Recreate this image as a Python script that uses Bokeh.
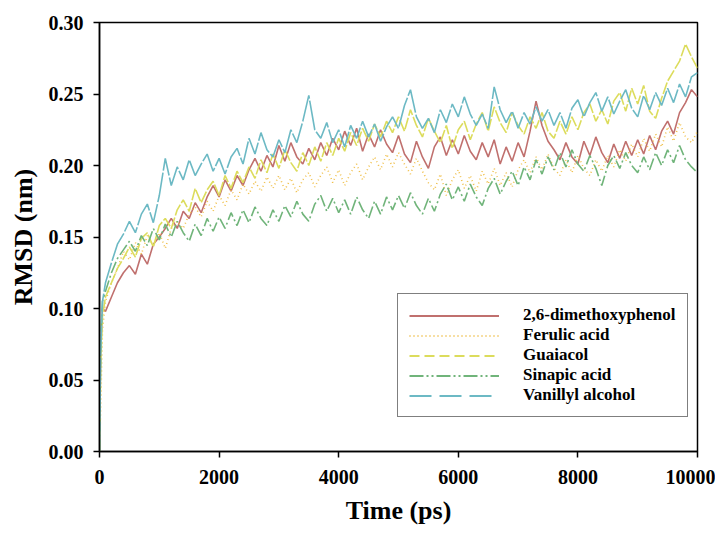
from bokeh.plotting import figure
from bokeh.models import Range1d, FixedTicker, NumeralTickFormatter, Legend, LegendItem
from bokeh.embed import file_html
from bokeh.resources import INLINE

# sample times (ps)
TIME = [0, 20, 50] + list(range(100, 10001, 100))

SERIES_NAMES = ["2,6-dimethoxyphenol", "Ferulic acid", "Guaiacol", "Sinapic acid", "Vanillyl alcohol"]

dimethoxyphenol = [
    0.0, 0.075, 0.100,
    0.098, 0.108, 0.118, 0.125, 0.130, 0.124, 0.138, 0.131, 0.145, 0.150,
    0.156, 0.163, 0.156, 0.168, 0.163, 0.174, 0.167, 0.178, 0.186, 0.178,
    0.190, 0.182, 0.193, 0.186, 0.197, 0.205, 0.196, 0.207, 0.199, 0.214,
    0.203, 0.216, 0.206, 0.201, 0.212, 0.204, 0.216, 0.207, 0.219, 0.211,
    0.224, 0.214, 0.226, 0.210, 0.222, 0.213, 0.225, 0.215, 0.209, 0.221,
    0.208, 0.202, 0.217, 0.206, 0.198, 0.213, 0.220, 0.207, 0.218, 0.208,
    0.221, 0.210, 0.204, 0.216, 0.206, 0.218, 0.201, 0.213, 0.203, 0.216,
    0.206, 0.224, 0.245, 0.228, 0.217, 0.211, 0.204, 0.216, 0.206, 0.201,
    0.217, 0.207, 0.220, 0.209, 0.202, 0.215, 0.205, 0.217, 0.207, 0.218,
    0.208, 0.221, 0.211, 0.224, 0.231, 0.222, 0.237, 0.244, 0.253, 0.248,
]

ferulic_acid = [
    0.0, 0.030, 0.085,
    0.105, 0.118, 0.128, 0.140, 0.134, 0.146, 0.138, 0.151, 0.144, 0.153,
    0.142, 0.156, 0.161, 0.156, 0.166, 0.171, 0.164, 0.175, 0.168, 0.179,
    0.172, 0.183, 0.176, 0.187, 0.180, 0.189, 0.182, 0.192, 0.184, 0.193,
    0.183, 0.191, 0.181, 0.190, 0.195, 0.185, 0.193, 0.199, 0.188, 0.197,
    0.186, 0.195, 0.201, 0.190, 0.199, 0.206, 0.197, 0.208, 0.199, 0.209,
    0.201, 0.194, 0.205, 0.196, 0.188, 0.183, 0.194, 0.179, 0.190, 0.197,
    0.184, 0.193, 0.182, 0.196, 0.187, 0.198, 0.186, 0.195, 0.185, 0.197,
    0.204, 0.195, 0.206, 0.197, 0.208, 0.198, 0.193, 0.204, 0.195, 0.207,
    0.198, 0.193, 0.204, 0.196, 0.207, 0.199, 0.211, 0.203, 0.215, 0.206,
    0.219, 0.210, 0.222, 0.213, 0.227, 0.217, 0.230, 0.220, 0.216, 0.224,
]

guaiacol = [
    0.0, 0.060, 0.095,
    0.108, 0.118, 0.128, 0.135, 0.143, 0.136, 0.149, 0.153, 0.143, 0.158,
    0.163, 0.156, 0.169, 0.176, 0.168, 0.184, 0.174, 0.183, 0.189, 0.179,
    0.193, 0.184, 0.196, 0.188, 0.199, 0.191, 0.204, 0.195, 0.208, 0.198,
    0.211, 0.202, 0.196, 0.209, 0.200, 0.213, 0.203, 0.216, 0.207, 0.219,
    0.210, 0.223, 0.214, 0.226, 0.217, 0.229, 0.220, 0.231, 0.223, 0.234,
    0.224, 0.239, 0.228, 0.220, 0.233, 0.224, 0.216, 0.228, 0.212, 0.225,
    0.231, 0.218, 0.229, 0.237, 0.224, 0.241, 0.230, 0.223, 0.237, 0.228,
    0.222, 0.234, 0.226, 0.237, 0.224, 0.219, 0.231, 0.222, 0.234, 0.225,
    0.237, 0.243, 0.231, 0.239, 0.229, 0.245, 0.251, 0.238, 0.254, 0.243,
    0.256, 0.238, 0.233, 0.247, 0.259, 0.266, 0.273, 0.285, 0.276, 0.268,
]

sinapic_acid = [
    0.0, 0.080, 0.105,
    0.112, 0.125, 0.135, 0.141, 0.147, 0.140, 0.151, 0.144, 0.156, 0.148,
    0.159, 0.150, 0.161, 0.153, 0.147, 0.159, 0.151, 0.163, 0.154, 0.164,
    0.156, 0.167, 0.158, 0.169, 0.160, 0.171, 0.163, 0.158, 0.169, 0.161,
    0.172, 0.164, 0.175, 0.166, 0.161, 0.173, 0.179, 0.168, 0.177, 0.167,
    0.176, 0.166, 0.178, 0.169, 0.163, 0.175, 0.166, 0.178, 0.169, 0.179,
    0.170, 0.181, 0.172, 0.166, 0.177, 0.168, 0.180, 0.187, 0.176, 0.185,
    0.175, 0.187, 0.178, 0.172, 0.184, 0.191, 0.180, 0.189, 0.196, 0.186,
    0.199, 0.190, 0.204, 0.194, 0.206, 0.197, 0.209, 0.199, 0.211, 0.201,
    0.196, 0.207, 0.198, 0.186, 0.200, 0.207, 0.198, 0.209, 0.200, 0.195,
    0.206, 0.197, 0.209, 0.200, 0.211, 0.202, 0.214, 0.204, 0.199, 0.195,
]

vanillyl_alcohol = [
    0.0, 0.070, 0.105,
    0.118, 0.132, 0.145, 0.152, 0.161, 0.153, 0.166, 0.173, 0.160, 0.179,
    0.205, 0.186, 0.199, 0.190, 0.204, 0.193, 0.201, 0.208, 0.196, 0.205,
    0.194, 0.206, 0.212, 0.201, 0.219, 0.208, 0.223, 0.211, 0.206, 0.218,
    0.209, 0.225, 0.216, 0.231, 0.249, 0.225, 0.219, 0.230, 0.216, 0.225,
    0.213, 0.228, 0.219, 0.231, 0.220, 0.229, 0.217, 0.227, 0.234, 0.226,
    0.242, 0.253, 0.234, 0.226, 0.233, 0.223, 0.239, 0.230, 0.243, 0.234,
    0.248, 0.236, 0.228, 0.236, 0.226, 0.255, 0.239, 0.230, 0.238, 0.226,
    0.237, 0.229, 0.241, 0.231, 0.239, 0.228, 0.237, 0.226, 0.240, 0.246,
    0.234, 0.244, 0.251, 0.238, 0.248, 0.236, 0.245, 0.253, 0.240, 0.234,
    0.249, 0.239, 0.251, 0.242, 0.254, 0.244, 0.257, 0.248, 0.262, 0.265,
]

X_TICKS = [0, 2000, 4000, 6000, 8000, 10000]
Y_TICKS = [0.0, 0.05, 0.10, 0.15, 0.20, 0.25, 0.30]

FONT = "Liberation Serif"
NAN = float("nan")

p = figure(width=715, height=533, output_backend="svg", toolbar_location=None,
           x_range=Range1d(0, 10000), y_range=Range1d(0, 0.30),
           min_border_left=99, min_border_right=18, min_border_top=22, min_border_bottom=82)

p.xgrid.visible = False
p.ygrid.visible = False
p.outline_line_color = "black"
p.outline_line_width = 1.5
p.background_fill_color = "white"
p.border_fill_color = "white"

for ax in (p.xaxis[0], p.yaxis[0]):
    ax.axis_line_width = 1.5
    ax.major_tick_line_width = 1.5
    ax.major_tick_out = 6
    ax.major_tick_in = 0
    ax.minor_tick_out = 0
    ax.minor_tick_in = 0
    ax.major_label_text_font = FONT
    ax.major_label_text_font_style = "bold"
    ax.major_label_text_font_size = "20px"
    ax.major_label_text_color = "black"
    ax.axis_label_text_font = FONT
    ax.axis_label_text_font_style = "bold"
    ax.axis_label_text_font_size = "26px"
    ax.axis_label_text_color = "black"

p.xaxis.ticker = FixedTicker(ticks=X_TICKS)
p.yaxis.ticker = FixedTicker(ticks=Y_TICKS)
p.yaxis.formatter = NumeralTickFormatter(format="0.00")
p.xaxis.major_label_standoff = 12
p.yaxis.major_label_standoff = 10
p.xaxis.axis_label = "Time (ps)"
p.yaxis.axis_label = "RMSD (nm)"
p.xaxis.axis_label_standoff = 9
p.yaxis.axis_label_standoff = 8

# (values, colour, dash used for the data trace, dash shown in the legend)
styles = [
    (dimethoxyphenol, "#c0706e", "solid", "solid"),
    (ferulic_acid, "#f0c04c", "1 3", "1 3"),
    (guaiacol, "#dcdc5c", "12 2", "10 5"),
    (sinapic_acid, "#70b47a", "12 3 2 3", "14 3 2 3 2 3"),
    (vanillyl_alcohol, "#6cb9c4", "30 2", "22 8"),
]

items = []
for name, (vals, color, dash, leg_dash) in zip(SERIES_NAMES, styles):
    p.line(TIME, vals, line_color=color, line_width=1.6, line_dash=dash)
    key = p.line(x=[NAN], y=[NAN], line_color=color, line_width=2, line_dash=leg_dash)
    items.append(LegendItem(label=name, renderers=[key]))

legend = Legend(items=items, location=(298, 34))
legend.border_line_color = "black"
legend.border_line_width = 1.5
legend.background_fill_alpha = 1.0
legend.label_text_font = FONT
legend.label_text_font_style = "bold"
legend.label_text_font_size = "17px"
legend.label_text_color = "black"
legend.glyph_width = 90
legend.glyph_height = 19
legend.label_height = 19
legend.label_standoff = 24
legend.padding = 11
legend.spacing = 0
legend.margin = 0
p.add_layout(legend, "center")

open("out.html", "w").write(file_html(p, INLINE))
